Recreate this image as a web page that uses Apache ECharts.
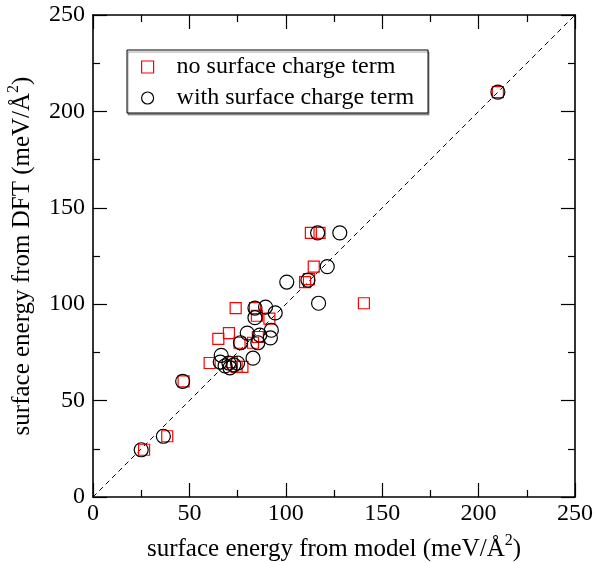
<!DOCTYPE html>
<html>
<head>
<meta charset="utf-8">
<script src="https://cdn.jsdelivr.net/npm/echarts@6/dist/echarts.min.js"></script>
<style>
html,body{margin:0;padding:0;background:#fff;}
#chart{width:597px;height:562px;}
</style>
</head>
<body>
<div id="chart"></div>
<script>
// ---- data ----
var seriesNames = ['no surface charge term', 'with surface charge term'];
var noChargeX = [26.5, 38.5, 47, 60.5, 65, 70.5, 74, 74.5, 77.5, 72, 76, 83, 84, 85, 85.5, 91.5, 110, 112, 113, 117.5, 114.5, 140.5, 210];
var noChargeY = [24.5, 31.5, 60, 69.5, 82, 85, 98, 67.5, 67.5, 70, 80, 80, 98, 94, 83, 92.5, 111.5, 113, 137, 137, 119.5, 100.5, 210];
var withChargeX = [25, 36.5, 46.5, 66.5, 66, 68.5, 70.5, 71, 73, 75, 76.5, 80, 83, 84, 84, 85.5, 86.5, 89.5, 92, 92.5, 94.5, 100.5, 111.5, 117, 116.5, 121.5, 128, 210];
var withChargeY = [24.5, 31.5, 60, 73.5, 70, 68, 69.5, 67, 68.5, 69.5, 80, 85, 72, 93, 98, 80, 84, 98.5, 82.5, 86.5, 95.5, 111.5, 112.5, 100.5, 137, 119.5, 137, 210];
var diagX = [0, 250];
var diagY = [0, 250];
var axisTicks = [0, 50, 100, 150, 200, 250];
var xTitle = 'surface energy from model (meV/Å{sup|2})';
var yTitle = 'surface energy from DFT (meV/Å{sup|2})';

function zip(a, b) { return a.map(function (v, i) { return [v, b[i]]; }); }

var FONT = 'Liberation Serif';
var FS = 24;
var axisMin = axisTicks[0], axisMax = axisTicks[axisTicks.length - 1];
var axisInterval = axisTicks[1] - axisTicks[0];

function baseAxis(extra) {
  var a = {
    type: 'value', min: axisMin, max: axisMax, interval: axisInterval,
    axisLine: { show: true, onZero: false, lineStyle: { color: '#000', width: 1.6 } },
    axisTick: { show: true, inside: true, length: 14, lineStyle: { color: '#000', width: 1.2 } },
    minorTick: { show: true, splitNumber: 2, length: 7, lineStyle: { color: '#000', width: 1.2 } },
    splitLine: { show: false },
    axisLabel: { show: true, color: '#000', fontFamily: FONT, fontSize: FS }
  };
  for (var k in extra) a[k] = extra[k];
  return a;
}

var titleStyle = {
  color: '#000', fontFamily: FONT, fontSize: 25, lineHeight: 32,
  rich: { sup: { fontFamily: FONT, fontSize: 16, lineHeight: 16, verticalAlign: 'top', color: '#000' } }
};

var chart = echarts.init(document.getElementById('chart'), null, { renderer: 'canvas' });
chart.setOption({
  animation: false,
  backgroundColor: '#fff',
  grid: { left: 93, right: 22, top: 15, bottom: 65, containLabel: false, outerBoundsMode: 'none' },
  xAxis: [
    baseAxis({ position: 'bottom', name: xTitle, nameLocation: 'middle', nameGap: 36,
      nameTextStyle: titleStyle, axisLabel: { color: '#000', fontFamily: FONT, fontSize: FS, margin: 5 } }),
    baseAxis({ position: 'top', axisLabel: { show: false } })
  ],
  yAxis: [
    baseAxis({ position: 'left', name: yTitle, nameLocation: 'middle', nameGap: 45,
      nameTextStyle: titleStyle, axisLabel: { color: '#000', fontFamily: FONT, fontSize: FS, margin: 8 } }),
    baseAxis({ position: 'right', axisLabel: { show: false } })
  ],
  legend: {
    show: true, orient: 'vertical', left: 127, top: 50,
    padding: [5, 14, 3, 14],
    borderColor: '#000', borderWidth: 1,
    shadowColor: 'rgba(0,0,0,0.35)', shadowOffsetX: 1, shadowOffsetY: 2, shadowBlur: 0,
    backgroundColor: '#fff',
    itemWidth: 12, itemHeight: 12, itemGap: 7,
    textStyle: { color: '#000', fontFamily: FONT, fontSize: FS, lineHeight: 24, padding: [0, 0, 0, 18] },
    data: [
      { name: seriesNames[0], icon: 'rect', itemStyle: { color: 'transparent', borderColor: '#ff0000', borderWidth: 1.2 } },
      { name: seriesNames[1], icon: 'circle', itemStyle: { color: 'transparent', borderColor: '#000', borderWidth: 1.2 } }
    ]
  },
  series: [
    {
      type: 'line', data: zip(diagX, diagY), symbol: 'none', silent: true,
      lineStyle: { color: '#000', width: 1, type: [5, 4] }, z: 1
    },
    {
      name: seriesNames[0], type: 'scatter', symbol: 'rect', symbolSize: 11,
      data: zip(noChargeX, noChargeY),
      itemStyle: { color: 'transparent', borderColor: '#ff0000', borderWidth: 1.2, opacity: 1 }, z: 2
    },
    {
      name: seriesNames[1], type: 'scatter', symbol: 'circle', symbolSize: 14,
      data: zip(withChargeX, withChargeY),
      itemStyle: { color: 'transparent', borderColor: '#000', borderWidth: 1.2, opacity: 1 }, z: 3
    }
  ]
});
</script>
</body>
</html>
